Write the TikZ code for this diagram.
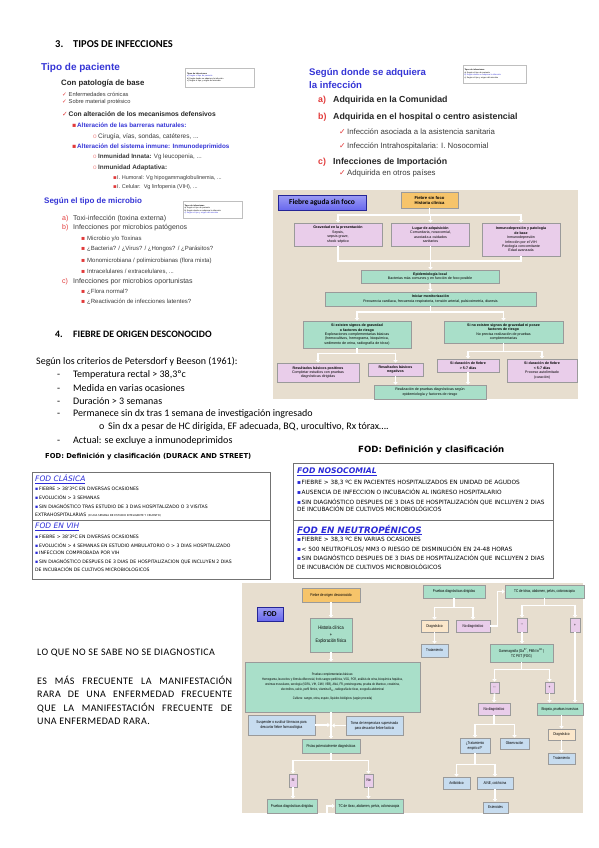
\documentclass[tikz,border=0pt]{standalone}
\usepackage{fontspec}
\setmainfont{Carlito}
\newfontfamily\slidefont{Liberation Sans}
\newfontfamily\docfont{Carlito}
\newfontfamily\spacedfont[LetterSpace=4]{Carlito}
\newfontfamily\tahfont{DejaVu Sans}
\newfontfamily\symfont{DejaVu Sans}
\newfontfamily\narrowfont[FakeStretch=0.78]{Liberation Sans}
\usetikzlibrary{arrows.meta,positioning}
\definecolor{slblue}{HTML}{3535D6}
\definecolor{slred}{HTML}{E23A3A}
\definecolor{slpink}{HTML}{EE8C8C}
\definecolor{slgray}{HTML}{3C3C3C}
\definecolor{beige}{HTML}{E7DECF}
\definecolor{tealbox}{HTML}{A9DFC9}
\definecolor{pinkbox}{HTML}{E9CDEA}
\definecolor{orangebox}{HTML}{F6C46A}
\definecolor{bluebox}{HTML}{C7DCEF}
\definecolor{peachbox}{HTML}{FBE7CB}
\definecolor{boxline}{HTML}{9A9A9A}
\definecolor{fodblue}{HTML}{2A2AD8}
\definecolor{titleblue}{HTML}{6868EE}
\newcommand{\redtick}{{\symfont\color{slred}✓}}
\newcommand{\redsq}{{\symfont\color{slred}▪}}
\newcommand{\ringmark}{{\slidefont\color{slpink}o}}
\newcommand{\bluesq}{{\symfont\color{fodblue}▪}}

\begin{document}
\begin{tikzpicture}[x=1pt,y=-1pt,
lbl/.style={anchor=west,inner sep=0pt},
sl/.style={lbl,text=slgray,font=\slidefont\fontsize{#1}{#1}\selectfont},
slb/.style={lbl,text=black!85,font=\slidefont\bfseries\fontsize{#1}{#1}\selectfont},
slt/.style={lbl,text=slblue,font=\slidefont\bfseries\fontsize{#1}{#1}\selectfont},
doc/.style={lbl,font=\docfont\fontsize{10}{12}\selectfont},
dochead/.style={lbl,font=\docfont\bfseries\fontsize{#1}{12}\selectfont},
thumb/.style={draw=black!25,line width=.6pt,fill=white,text width=#1,align=left,inner sep=1.5pt,font=\slidefont\fontsize{2}{2.6}\selectfont},
fc/.style={draw=boxline,line width=.7pt,fill=#1,align=center,inner sep=.5pt,font=\slidefont\fontsize{3.6}{4.4}\selectfont},
fd/.style={draw=boxline,line width=.7pt,fill=#1,align=center,inner sep=.5pt,font=\narrowfont\fontsize{4}{5}\selectfont},
titlebox/.style={draw=slblue!70!black,line width=.5pt,top color=titleblue!65!white,bottom color=titleblue,font=\docfont\bfseries\fontsize{7.5}{8}\selectfont},
wline/.style={draw=white,line width=1.6pt},
warrow/.style={wline,-{Triangle[length=2.6pt,width=4.2pt]}},
fod/.style={lbl,font=\tahfont\fontsize{4.6}{4.6}\selectfont},
fodr/.style={lbl,font=\tahfont\fontsize{5.8}{5.8}\selectfont},
fodframe/.style={draw=black!55,line width=.8pt}]
\fill[white] (0,0) rectangle (599,848);
\useasboundingbox (0,0) rectangle (599,848);

% 3. tipos de infecciones
\node[dochead=10.5] (h3) at (55,44) {\makebox[18pt][l]{3.}TIPOS DE INFECCIONES};

% slide: tipo de paciente
\node[slt=10] (tpac) at (41,68) {Tipo de paciente};
\node[thumb=66pt,minimum height=19pt] (thumb1) at (220,77.5) {\textbf{Tipos de infecciones}\\{\color{slblue}a) Según el tipo de paciente}\\b) Según donde se adquiera la infección\\c) Según el tipo y origen del microbio};
\node[slb=7.8] (pa0) at (61,83) {Con patología de base};
\node[sl=5.7] (pa1) at (62,94) {\makebox[6.5pt][l]{\redtick}Enfermedades crónicas};
\node[sl=5.7] (pa2) at (62,102) {\makebox[6.5pt][l]{\redtick}Sobre material protésico};
\node[slb=6.7] (pa3) at (62,114) {\makebox[6.5pt][l]{\redtick}Con alteración de los mecanismos defensivos};
\node[slt=6.3] (pa4) at (72,125) {\makebox[5pt][l]{\redsq}Alteración de las barreras naturales:};
\node[sl=6.5] (pa5) at (93,137) {\makebox[5pt][l]{\ringmark}Cirugía, vías, sondas, catéteres, ...};
\node[slt=6.3] (pa6) at (72,147) {\makebox[5pt][l]{\redsq}Alteración del sistema inmune: Inmunodeprimidos};
\node[sl=6.2] (pa7) at (93,157) {\makebox[5pt][l]{\ringmark}\textbf{Inmunidad Innata:} Vg leucopenia, ...};
\node[sl=6.4] (pa8) at (93,168) {\makebox[5pt][l]{\ringmark}\textbf{Inmunidad Adaptativa:}};
\node[sl=5.5] (pa9) at (113,178) {\makebox[4pt][l]{\redsq}I. Humoral: Vg hipogammaglobulinemia, ...};
\node[sl=5.5] (pa10) at (113,187) {\makebox[4pt][l]{\redsq}I. Celular:\ \ Vg linfopenia (VIH), ...};

% slide: tipo de microbio
\node[slt=8] (tmic) at (44,201) {Según el tipo de microbio};
\node[thumb=56pt,minimum height=17pt] (thumb2) at (212.5,209.5) {\textbf{Tipos de infecciones}\\a) Según el tipo de paciente\\b) Según donde se adquiera la infección\\{\color{slblue}c) Según el tipo y origen del microbio}};
\node[sl=7] (mi1) at (62,219) {\makebox[11pt][l]{\color{slred}a)}Toxi-infección (toxina externa)};
\node[sl=7] (mi2) at (62,228) {\makebox[11pt][l]{\color{slred}b)}Infecciones por microbios patógenos};
\node[sl=6] (mi3) at (81,239) {\makebox[6pt][l]{\redsq}Microbio y/o Toxinas};
\node[sl=6] (mi4) at (81,249) {\makebox[6pt][l]{\redsq}¿Bacteria? / ¿Virus? / ¿Hongos? / ¿Parásitos?};
\node[sl=6] (mi5) at (81,261) {\makebox[6pt][l]{\redsq}Monomicrobiana / polimicrobianas (flora mixta)};
\node[sl=6] (mi6) at (81,272) {\makebox[6pt][l]{\redsq}Intracelulares / extracelulares, ...};
\node[sl=7] (mi7) at (62,282) {\makebox[11pt][l]{\color{slred}c)}Infecciones por microbios oportunistas};
\node[sl=6] (mi8) at (81,292) {\makebox[6pt][l]{\redsq}¿Flora normal?};
\node[sl=6] (mi9) at (81,302) {\makebox[6pt][l]{\redsq}¿Reactivación de infecciones latentes?};

% slide: donde se adquiera
\node[slt=9.6] (tadq1) at (309,73) {Según donde se adquiera};
\node[slt=9.6] (tadq2) at (309,85) {la infección};
\node[thumb=60pt,minimum height=18pt] (thumb3) at (494.5,74) {\textbf{Tipos de infecciones}\\a) Según el tipo de paciente\\{\color{slblue}b) Según donde se adquiera la infección}\\c) Según el tipo y origen del microbio};
\node[slb=8.8] (ad1) at (318,100) {\makebox[15pt][l]{\color{slred}a)}Adquirida en la Comunidad};
\node[slb=8.8] (ad2) at (318,117) {\makebox[15pt][l]{\color{slred}b)}Adquirida en el hospital o centro asistencial};
\node[sl=7.8] (ad3) at (339,132) {\makebox[8pt][l]{\redtick}Infección asociada a la asistencia sanitaria};
\node[sl=7.8] (ad4) at (339,146) {\makebox[8pt][l]{\redtick}Infección Intrahospitalaria: I. Nosocomial};
\node[slb=8.8] (ad5) at (318,162) {\makebox[15pt][l]{\color{slred}c)}Infecciones de Importación};
\node[sl=7.8] (ad6) at (339,173) {\makebox[8pt][l]{\redtick}Adquirida en otros países};

% fiebre aguda sin foco
\fill[beige] (273,190) rectangle (578,399);
\node[titlebox,minimum width=88,minimum height=15] (fasf) at (322,202.5) {Fiebre aguda sin foco};
\node[fc=orangebox,minimum width=57,minimum height=16,font=\slidefont\bfseries\fontsize{4.2}{5}\selectfont] (fsf) at (429.5,200) {Fiebre sin foco\\Historia clínica};
\node[fc=pinkbox,minimum width=88,minimum height=23] (grav) at (338,234.5) {\textbf{Gravedad en la presentación}\\Sepsis,\\sepsis grave,\\shock séptico};
\node[fc=pinkbox,minimum width=78,minimum height=23] (lugar) at (430.5,234.5) {\textbf{Lugar de adquisición}\\Comunitaria, nosocomial,\\asociada a cuidados\\sanitarios};
\node[fc=pinkbox,minimum width=78,minimum height=33] (inmu) at (521,239.5) {\textbf{Inmunodepresión y patología}\\\textbf{de base}\\Inmunodepresión\\Infección por el VIH\\Patología concomitante\\Edad avanzada};
\node[fc=tealbox,minimum width=138,minimum height=13] (epid) at (430,276.5) {\textbf{Epidemiología local}\\Bacterias más comunes y en función de foco posible};
\node[fc=tealbox,minimum width=211,minimum height=14] (monit) at (430.5,299) {\textbf{Iniciar monitorización}\\Frecuencia cardíaca, frecuencia respiratoria, tensión arterial, pulsioximetría, diuresis};
\node[fc=tealbox,minimum width=108,minimum height=27] (signos) at (357,334.5) {\textbf{Si existen signos de gravedad}\\\textbf{o factores de riesgo}\\Exploraciones complementarias básicas\\(hemocultivos, hemograma, bioquímica,\\sedimento de orina, radiografía de tórax)};
\node[fc=tealbox,minimum width=119,minimum height=22] (nosig) at (503.5,332) {\textbf{Si no existen signos de gravedad ni posee}\\\textbf{factores de riesgo}\\No precisa realización de pruebas\\complementarias};
\node[fc=pinkbox,minimum width=82,minimum height=19] (rpos) at (318,372.5) {\textbf{Resultados básicos positivos}\\Completar estudios con pruebas\\diagnósticas dirigidas};
\node[fc=pinkbox,minimum width=55,minimum height=13] (rneg) at (395.5,369.5) {\textbf{Resultados básicos}\\\textbf{negativos}};
\node[fc=pinkbox,minimum width=62,minimum height=13] (dmas) at (468,365.5) {\textbf{Si duración de fiebre}\\\textbf{> 5-7 días}};
\node[fc=pinkbox,minimum width=70,minimum height=23] (dmen) at (542,370.5) {\textbf{Si duración de fiebre}\\\textbf{< 5-7 días}\\Proceso autolimitado\\(curación)};
\node[fc=tealbox,minimum width=112,minimum height=14] (rpru) at (430,392) {Realización de pruebas diagnósticas según\\epidemiología y factores de riesgo};
\coordinate (s1) at (430,215);
\coordinate (j1) at (430,261);
\coordinate (s2) at (430,312);
\draw[wline] (fsf.south) -- (fsf.south |- s1);
\draw[warrow] (fsf.south |- s1) -| (grav.north);
\draw[warrow] (fsf.south |- s1) -| (inmu.north);
\draw[warrow] (fsf.south |- s1) -| (lugar.north);
\draw[wline] (grav.south) |- (j1);
\draw[wline] (inmu.south) |- (j1);
\draw[warrow] (lugar.south) -- (lugar.south |- epid.north);
\draw[warrow] (epid.south) -- (monit.north);
\draw[wline] (monit.south) -- (monit.south |- s2);
\draw[warrow] (monit.south |- s2) -| (signos.north);
\draw[warrow] (monit.south |- s2) -| (nosig.north);
\draw[wline] (signos.south) -- ++(0,5) coordinate (s3);
\draw[warrow] (s3) -| (rpos.north);
\draw[warrow] (s3) -| (rneg.north);
\draw[wline] (nosig.south) -- ++(0,8) coordinate (s4);
\draw[warrow] (s4) -| (dmas.north);
\draw[warrow] (s4) -| (dmen.north);
\draw[warrow] (rneg.south) -- (rneg.south |- rpru.north);
\draw[warrow] (dmas.south) -- (dmas.south |- rpru.north);

% 4. fiebre de origen desconocido
\node[dochead=9.8] (h4) at (55,334) {\makebox[18pt][l]{4.}FIEBRE DE ORIGEN DESCONOCIDO};
\node[doc] (crit) at (36,362) {Según los criterios de Petersdorf y Beeson (1961):};
\node[doc] (cr1) at (57,375) {\makebox[16pt][l]{-}Temperatura rectal > 38,3ºc};
\node[doc] (cr2) at (57,388) {\makebox[16pt][l]{-}Medida en varias ocasiones};
\node[doc] (cr3) at (57,401) {\makebox[16pt][l]{-}Duración > 3 semanas};
\node[doc] (cr4) at (57,414) {\makebox[16pt][l]{-}Permanece sin dx tras 1 semana de investigación ingresado};
\node[doc] (cr5) at (99,427) {\makebox[9pt][l]{o}Sin dx a pesar de HC dirigida, EF adecuada, BQ, urocultivo, Rx tórax….};
\node[doc] (cr6) at (57,441) {\makebox[16pt][l]{-}Actual: se excluye a inmunodeprimidos};

% FOD: Durack and Street
\node[lbl,font=\tahfont\bfseries\fontsize{6.8}{7}\selectfont] (fodt1) at (45,457) {FOD: Definición y clasificación (DURACK AND STREET)};
\node[fodframe,minimum width=238,minimum height=107] (fodbox1) at (151,525.5) {};
\draw[fodframe] (fodbox1.west |- 0,520) -- (fodbox1.east |- 0,520);
\node[lbl,font=\tahfont\itshape\fontsize{7.5}{8}\selectfont,text=fodblue] (fcl) at (35,479) {\underline{FOD CLÁSICA}};
\node[fod] (fc1) at (35,489) {\makebox[4pt][l]{\bluesq}FIEBRE > 38’3ºC EN DIVERSAS OCASIONES};
\node[fod] (fc2) at (35,497) {\makebox[4pt][l]{\bluesq}EVOLUCIÓN > 3 SEMANAS};
\node[fod] (fc3) at (35,506) {\makebox[4pt][l]{\bluesq}SIN DIAGNÓSTICO TRAS ESTUDIO DE 3 DIAS HOSPITALIZADO O 3 VISITAS};
\node[fod] (fc4) at (35,515) {EXTRAHOSPITALARIAS {\fontsize{2.6}{2.6}\selectfont (O UNA SEMANA DE ESTUDIO INTELIGENTE Y CRUENTO)}};
\node[lbl,font=\tahfont\itshape\fontsize{7.5}{8}\selectfont,text=fodblue] (fvih) at (35,527) {\underline{FOD EN VIH}};
\node[fod] (fv1) at (35,537) {\makebox[4pt][l]{\bluesq}FIEBRE > 38’3ºC EN DIVERSAS OCASIONES};
\node[fod] (fv2) at (35,545) {\makebox[4pt][l]{\bluesq}EVOLUCIÓN > 4 SEMANAS EN ESTUDIO AMBULATORIO O > 3 DIAS HOSPITALIZADO};
\node[fod] (fv3) at (35,553) {\makebox[4pt][l]{\bluesq}INFECCION COMPROBADA POR VIH};
\node[fod] (fv4) at (35,562) {\makebox[4pt][l]{\bluesq}SIN DIAGNÓSTICO DESPUES DE 3 DIAS DE HOSPITALIZACION QUE INCLUYEN 2 DIAS};
\node[fod] (fv5) at (35,569) {DE INCUBACIÓN DE CULTIVOS MICROBIOLOGICOS};

% FOD: nosocomial, neutropenicos
\node[lbl,font=\tahfont\bfseries\fontsize{8.6}{9}\selectfont] (fodt2) at (358,450) {FOD: Definición y clasificación};
\node[fodframe,minimum width=260,minimum height=115] (fodbox2) at (423,520.5) {};
\draw[fodframe] (fodbox2.west |- 0,520) -- (fodbox2.east |- 0,520);
\node[lbl,font=\tahfont\bfseries\itshape\fontsize{7.7}{8}\selectfont,text=fodblue] (fnos) at (297,472) {\underline{FOD NOSOCOMIAL}};
\node[fodr] (fn1) at (297,483) {\makebox[4.5pt][l]{\bluesq}FIEBRE > 38,3 ºC EN PACIENTES HOSPITALIZADOS EN UNIDAD DE AGUDOS};
\node[fodr] (fn2) at (297,492) {\makebox[4.5pt][l]{\bluesq}AUSENCIA DE INFECCION O INCUBACIÓN AL INGRESO HOSPITALARIO};
\node[fodr] (fn3) at (297,502) {\makebox[4.5pt][l]{\bluesq}SIN DIAGNÓSTICO DESPUES DE 3 DIAS DE HOSPITALIZACIÓN QUE INCLUYEN 2 DIAS};
\node[fodr] (fn4) at (297,509) {DE INCUBACIÓN DE CULTIVOS MICROBIOLÓGICOS};
\node[lbl,font=\tahfont\bfseries\itshape\fontsize{8.8}{9}\selectfont,text=fodblue] (fneu) at (297,530) {\underline{FOD EN NEUTROPÉNICOS}};
\node[fodr] (fe1) at (297,540) {\makebox[4.5pt][l]{\bluesq}FIEBRE > 38,3 ºC EN VARIAS OCASIONES};
\node[fodr] (fe2) at (297,549) {\makebox[4.5pt][l]{\bluesq}< 500 NEUTROFILOS/ MM3 O RIESGO DE DISMINUCIÓN EN 24-48 HORAS};
\node[fodr] (fe3) at (297,558) {\makebox[4.5pt][l]{\bluesq}SIN DIAGNÓSTICO DESPUES DE 3 DIAS DE HOSPITALIZACIÓN QUE INCLUYEN 2 DIAS};
\node[fodr] (fe4) at (297,567) {DE INCUBACIÓN DE CULTIVOS MICROBIOLÓGICOS};

% frases
\node[lbl,font=\spacedfont\fontsize{10}{11}\selectfont] (lq) at (37,653) {LO QUE NO SE SABE NO SE DIAGNOSTICA};
\node[anchor=north west,inner sep=0pt,align=left,font=\spacedfont\fontsize{10}{13.3}\selectfont] (esmas) at (37,676) {\makebox[195pt][s]{ES MÁS FRECUENTE LA MANIFESTACIÓN}\\\makebox[195pt][s]{RARA DE UNA ENFERMEDAD FRECUENTE}\\\makebox[195pt][s]{QUE LA MANIFESTACIÓN FRECUENTE DE}\\UNA ENFERMEDAD RARA.};

% algoritmo FOD
\fill[beige] (242,583) rectangle (583,813);
\node[titlebox,minimum width=26,minimum height=14] (fodl) at (270,614) {FOD};
\node[fd=orangebox,minimum width=58,minimum height=14] (fod0) at (331,595) {Fiebre de origen desconocido};
\node[fd=tealbox,minimum width=42,minimum height=34,font=\narrowfont\fontsize{5}{6.5}\selectfont] (hist) at (331,635) {Historia clínica\\+\\Exploración física};
\node[fd=tealbox,minimum width=175,minimum height=50,font=\narrowfont\fontsize{3.4}{5}\selectfont] (pcb) at (332.5,687) {Pruebas complementarias básicas:\\Hemograma, leucocitos y fórmula diferencial, frotis sangre periférica, VSG, PCR, análisis de orina, bioquímica hepática,\\enzimas musculares, serología (VDRL, VIH, CMV, VEB), ANA, FR, proteinograma, prueba de Mantoux, creatinina,\\electrolitos, calcio, perfil férrico, vitamina B\textsubscript{12}, radiografía de tórax, ecografía abdominal\\[4pt]Cultivos: sangre, orina, esputo, líquidos biológicos (según proceda)};
\node[fd=bluebox,minimum width=67,minimum height=20] (susp) at (281.5,725) {Suspender o sustituir fármacos para\\descartar fiebre farmacológica};
\node[fd=bluebox,minimum width=57,minimum height=19] (toma) at (374.5,725.5) {Toma de temperatura supervisada\\para descartar fiebre facticia};
\node[fd=tealbox,minimum width=58,minimum height=14] (pistas) at (331,746) {Pistas potencialmente diagnósticas};
\node[fd=pinkbox,minimum width=8,minimum height=13] (si) at (293,780.5) {Sí};
\node[fd=pinkbox,minimum width=9,minimum height=13] (no) at (368.5,780.5) {No};
\node[fd=tealbox,minimum width=50,minimum height=14] (pdd1) at (292,806) {Pruebas diagnósticas dirigidas};
\node[fd=tealbox,minimum width=68,minimum height=14] (tc1) at (369,806) {TC de tórax, abdomen, pelvis, colonoscopia};
\node[fd=tealbox,minimum width=62,minimum height=13] (pdd2) at (454,591.5) {Pruebas diagnósticas dirigidas};
\node[fd=peachbox,minimum width=27,minimum height=12] (diag1) at (434.5,626) {Diagnóstico};
\node[fd=pinkbox,minimum width=34,minimum height=12] (nodiag1) at (473,626) {No diagnóstico};
\node[fd=bluebox,minimum width=27,minimum height=13] (trat1) at (434.5,650.5) {Tratamiento};
\node[fd=tealbox,minimum width=79,minimum height=13] (tc2) at (544.5,591.5) {TC de tórax, abdomen, pelvis, colonoscopia};
\node[fd=pinkbox,minimum width=10,minimum height=14] (neg1) at (522,625) {--};
\node[fd=pinkbox,minimum width=10,minimum height=14] (pos1) at (575,625) {+};
\node[fd=tealbox,minimum width=63,minimum height=18] (gam) at (521.5,653) {Gammagrafía (Ga\textsuperscript{67}, PMN In\textsuperscript{111})\\TC PET (FDG)};
\node[fd=pinkbox,minimum width=9,minimum height=11] (neg2) at (494.5,687.5) {--};
\node[fd=pinkbox,minimum width=9,minimum height=11] (pos2) at (549.5,687.5) {+};
\node[fd=pinkbox,minimum width=32,minimum height=12] (nodiag2) at (494,709) {No diagnóstico};
\node[fd=tealbox,minimum width=46,minimum height=12] (biop) at (560,709) {Biopsia, pruebas invasivas};
\node[fd=bluebox,minimum width=30,minimum height=15] (tratq) at (475,745.5) {¿Tratamiento\\empírico?*};
\node[fd=bluebox,minimum width=29,minimum height=11] (obs) at (514.5,743.5) {Observación};
\node[fd=bluebox,minimum width=27,minimum height=12] (antib) at (456.5,783) {Antibiótico};
\node[fd=bluebox,minimum width=36,minimum height=12] (aine) at (495,783) {AINE, colchicina};
\node[fd=bluebox,minimum width=25,minimum height=11] (ester) at (495.5,807.5) {Esteroides};
\node[fd=peachbox,minimum width=27,minimum height=11] (diag2) at (561.5,734.5) {Diagnóstico};
\node[fd=bluebox,minimum width=27,minimum height=11] (trat2) at (561.5,758.5) {Tratamiento};
\coordinate (tcin) at (327,813);
\draw[warrow] (fod0.south) -- (hist.north);
\draw[warrow] (hist.south) -- (hist.south |- pcb.north);
\draw[warrow] (pistas.north |- pcb.south) -- (pistas.north);
\draw[warrow,shorten >=1pt] (susp.east) -- (susp.east -| pistas.north);
\draw[warrow,shorten >=1pt] (toma.west) -- (toma.west -| pistas.north);
\draw[wline] (pistas.south) -- ++(0,7) coordinate (s5);
\draw[warrow] (s5) -| (si.north);
\draw[warrow] (s5) -| (no.north);
\draw[warrow] (si.south) -- (si.south |- pdd1.north);
\draw[warrow] (no.south) -- (no.south |- tc1.north);
\draw[warrow] (tcin) |- (tc1.west);
\draw[wline] (pdd2.south) -- ++(0,9) coordinate (s6);
\draw[warrow] (s6) -| (diag1.north);
\draw[warrow] (s6) -| (nodiag1.north);
\draw[warrow] (diag1.south) -- (trat1.north);
\draw[warrow] (nodiag1.east) -- ++(7,0) |- (tc2.west);
\draw[wline] (tc2.south) -- ++(0,7) coordinate (s7);
\draw[warrow] (s7) -| (neg1.north);
\draw[warrow] (s7) -| (pos1.north);
\draw[warrow] (neg1.south) -- (neg1.south |- gam.north);
\draw[wline] (gam.south) -- ++(0,7) coordinate (s8);
\draw[warrow] (s8) -| (neg2.north);
\draw[warrow] (s8) -| (pos2.north);
\draw[warrow] (neg2.south) -- (nodiag2.north);
\draw[warrow] (pos2.south) -- (pos2.south |- biop.north);
\draw[warrow] (pos1.south) -- (pos1.south |- biop.north);
\draw[wline] (nodiag2.south) -- ++(0,9) coordinate (s9);
\draw[warrow] (s9) -| (tratq.north);
\draw[warrow] (s9) -| (obs.north);
\draw[wline] (tratq.south) -- ++(0,11) coordinate (s10);
\draw[warrow] (s10) -| (antib.north);
\draw[warrow] (s10) -| (aine.north);
\draw[warrow] (aine.south) -- (aine.south |- ester.north);
\draw[warrow] (diag2.north |- biop.south) -- (diag2.north);
\draw[warrow] (diag2.south) -- (trat2.north);
\end{tikzpicture}
\end{document}
